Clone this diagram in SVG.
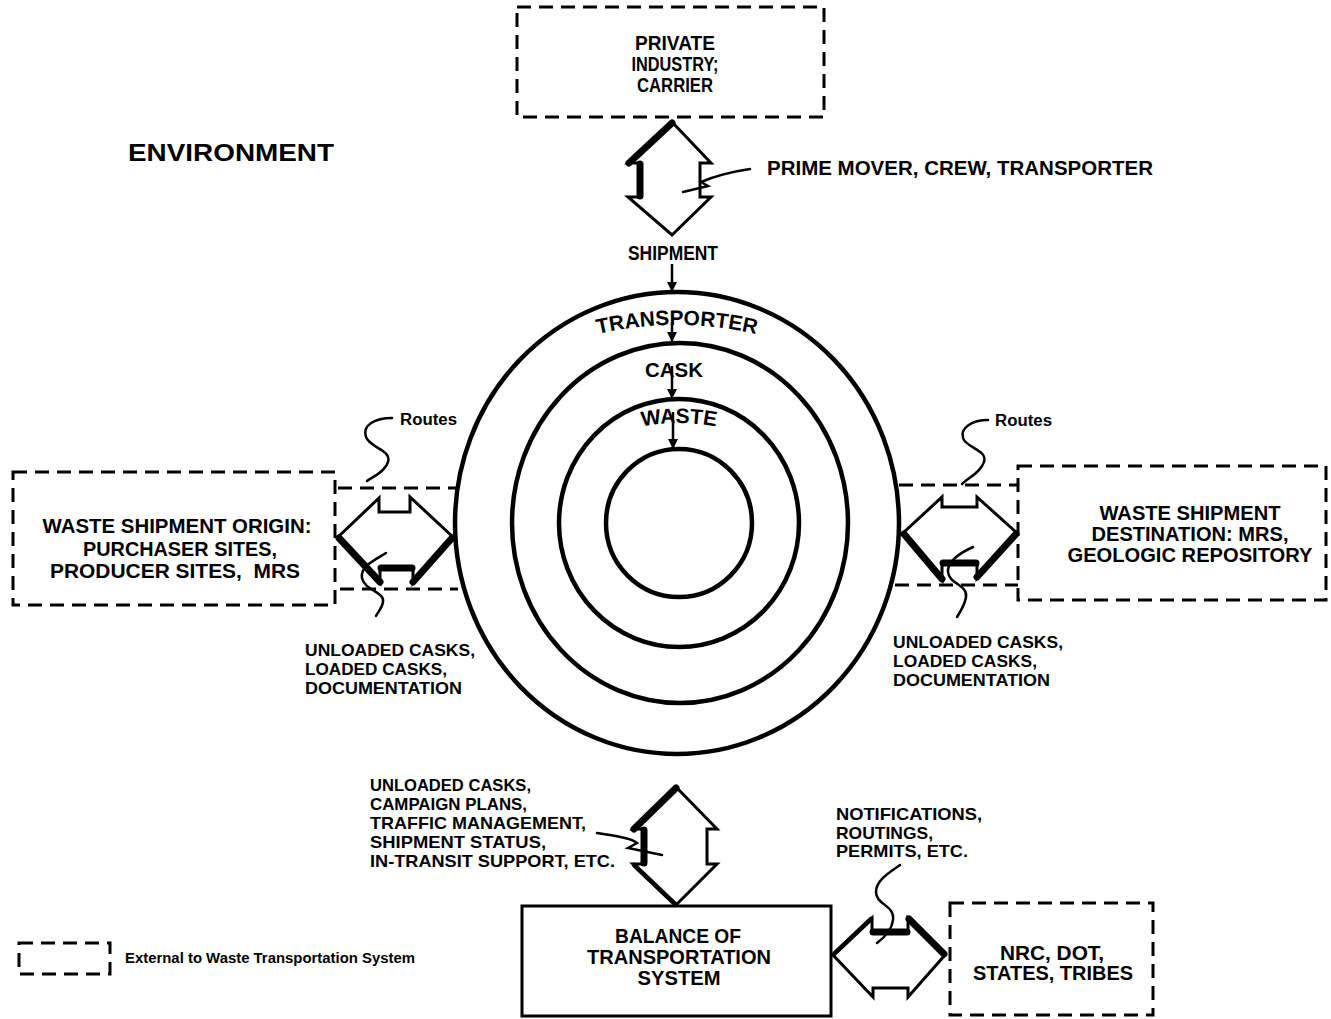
<svg xmlns="http://www.w3.org/2000/svg" width="1331" height="1019" viewBox="0 0 1331 1019">
<style>
.t{font-family:"Liberation Sans",Arial,sans-serif;font-weight:bold;fill:#000}
.m{text-anchor:middle}
.dash{fill:none;stroke:#000;stroke-width:3;stroke-dasharray:14 8}
.solid{fill:none;stroke:#000;stroke-width:3}
.ring{fill:none;stroke:#000;stroke-width:4.5}
.arr{fill:#fff;stroke:#000;stroke-width:3;stroke-linejoin:miter}
.thk{fill:none;stroke:#000;stroke-width:7;stroke-linecap:round}
.lead{fill:none;stroke:#000;stroke-width:2.5;stroke-linecap:round}
.ptr{fill:none;stroke:#000;stroke-width:2.5}
</style>
<defs>
<marker id="ah" viewBox="0 0 10 10" refX="10" refY="5" markerWidth="12" markerHeight="10" markerUnits="userSpaceOnUse" orient="auto">
<path d="M0,0 L10,5 L0,10 z" fill="#000"/>
</marker>
<path id="arcT" d="M327,675 A350,350 0 0 1 1027,675"/>
<path id="arcW" d="M479,623 A200,200 0 0 1 879,623"/>
</defs>
<rect width="1331" height="1019" fill="#fff"/>

<text class="t" x="128" y="161" font-size="24" textLength="206" lengthAdjust="spacingAndGlyphs">ENVIRONMENT</text>

<g id="private-industry">
<rect class="dash" x="517" y="7" width="307" height="110"/>
<text class="t m" x="675" y="50" font-size="20" textLength="80" lengthAdjust="spacingAndGlyphs">PRIVATE</text>
<text class="t m" x="675" y="71" font-size="20" textLength="87" lengthAdjust="spacingAndGlyphs">INDUSTRY;</text>
<text class="t m" x="675" y="92" font-size="20" textLength="76" lengthAdjust="spacingAndGlyphs">CARRIER</text>
</g>

<g id="rings">
<ellipse class="ring" cx="677" cy="523" rx="222" ry="231"/>
<ellipse class="ring" cx="680" cy="523" rx="168" ry="180"/>
<ellipse class="ring" cx="679" cy="523" rx="120" ry="124"/>
<ellipse class="ring" cx="679" cy="523" rx="73" ry="74"/>
<text class="t" font-size="21"><textPath href="#arcT" startOffset="50%" text-anchor="middle">TRANSPORTER</textPath></text>
<text class="t m" x="674" y="377" font-size="20" textLength="58" lengthAdjust="spacingAndGlyphs">CASK</text>
<text class="t" font-size="21"><textPath href="#arcW" startOffset="50%" text-anchor="middle">WASTE</textPath></text>
</g>

<g id="origin">
<rect class="dash" x="13" y="472" width="322" height="133"/>
<text class="t m" x="177" y="533" font-size="21" textLength="269" lengthAdjust="spacingAndGlyphs">WASTE SHIPMENT ORIGIN:</text>
<text class="t m" x="180" y="556" font-size="21" textLength="194" lengthAdjust="spacingAndGlyphs">PURCHASER SITES,</text>
<text class="t m" x="175" y="578" font-size="21" textLength="250" lengthAdjust="spacingAndGlyphs">PRODUCER SITES,&#160; MRS</text>
</g>

<g id="destination">
<rect class="dash" x="1018" y="466" width="308" height="134"/>
<text class="t m" x="1190" y="520" font-size="21" textLength="181" lengthAdjust="spacingAndGlyphs">WASTE SHIPMENT</text>
<text class="t m" x="1190" y="541" font-size="21" textLength="197" lengthAdjust="spacingAndGlyphs">DESTINATION: MRS,</text>
<text class="t m" x="1190" y="562" font-size="21" textLength="245" lengthAdjust="spacingAndGlyphs">GEOLOGIC REPOSITORY</text>
</g>

<g id="balance">
<rect class="solid" x="522" y="906" width="309" height="110"/>
<text class="t m" x="678" y="943" font-size="20" textLength="126" lengthAdjust="spacingAndGlyphs">BALANCE OF</text>
<text class="t m" x="679" y="964" font-size="20" textLength="184" lengthAdjust="spacingAndGlyphs">TRANSPORTATION</text>
<text class="t m" x="679" y="985" font-size="20" textLength="83" lengthAdjust="spacingAndGlyphs">SYSTEM</text>
</g>

<g id="nrc">
<rect class="dash" x="950" y="903" width="203" height="112"/>
<text class="t m" x="1052" y="960" font-size="20" textLength="104" lengthAdjust="spacingAndGlyphs">NRC, DOT,</text>
<text class="t m" x="1053" y="980" font-size="20" textLength="160" lengthAdjust="spacingAndGlyphs">STATES, TRIBES</text>
</g>

<g id="legend">
<rect class="dash" x="19" y="943" width="91" height="31"/>
<text class="t" x="125" y="963" font-size="14" textLength="290" lengthAdjust="spacingAndGlyphs">External to Waste Transportation System</text>
</g>

<g id="connectors">
<polygon class="arr" points="672,122 711,163 700,163 700,197 711,197 672,235 628,197 640,197 640,163 628,163"/>
<path class="thk" d="M629,163 L672,123 M640,164 V196"/>
<path class="lead" d="M683,192 L708,186 L701,182 C715,176 730,172 750,169"/>
<text class="t" x="767" y="175" font-size="20" textLength="386" lengthAdjust="spacingAndGlyphs">PRIME MOVER, CREW, TRANSPORTER</text>
<text class="t m" x="673" y="260" font-size="20" textLength="90" lengthAdjust="spacingAndGlyphs">SHIPMENT</text>
<path class="ptr" d="M672,264 V292" marker-end="url(#ah)"/>
<path class="ptr" d="M672,322 V342" marker-end="url(#ah)"/>
<path class="ptr" d="M672,366 V399" marker-end="url(#ah)"/>
<path class="ptr" d="M673,412 V449" marker-end="url(#ah)"/>

<path class="dash" d="M338,488 H458 M340,589 H458"/>
<polygon class="arr" points="338,537 379,498 379,512 410,512 410,497 453,537 413,583 413,568 380,568 380,583"/>
<path class="thk" d="M339,538 L380,582 M381,568 H412 M413,582 L452,538"/>
<path class="lead" d="M392,418 C375,418 362,425 366,437 C370,448 392,450 388,462 C385,472 372,477 367,481"/>
<path class="lead" d="M386,553 C375,560 360,566 362,578 C364,590 385,592 383,602 C382,608 378,612 376,616"/>
<text class="t" x="400" y="425" font-size="16" textLength="57" lengthAdjust="spacingAndGlyphs">Routes</text>
<text class="t" x="305" y="656" font-size="17" textLength="170" lengthAdjust="spacingAndGlyphs">UNLOADED CASKS,</text>
<text class="t" x="305" y="675" font-size="17" textLength="142" lengthAdjust="spacingAndGlyphs">LOADED CASKS,</text>
<text class="t" x="305" y="694" font-size="17" textLength="157" lengthAdjust="spacingAndGlyphs">DOCUMENTATION</text>

<path class="dash" d="M899,485 H1018 M895,585 H1018"/>
<polygon class="arr" points="903,533 942,497 942,507 977,507 977,497 1017,533 977,578 977,563 942,563 942,580"/>
<path class="thk" d="M904,534 L942,579 M943,563 H976 M977,577 L1016,534"/>
<path class="lead" d="M988,420 C972,420 960,428 963,438 C966,448 988,450 984,462 C981,472 968,478 962,484"/>
<path class="lead" d="M973,547 C962,552 947,560 948,572 C949,584 968,585 966,597 C965,605 960,612 957,617"/>
<text class="t" x="995" y="426" font-size="16" textLength="57" lengthAdjust="spacingAndGlyphs">Routes</text>
<text class="t" x="893" y="648" font-size="17" textLength="170" lengthAdjust="spacingAndGlyphs">UNLOADED CASKS,</text>
<text class="t" x="893" y="667" font-size="17" textLength="144" lengthAdjust="spacingAndGlyphs">LOADED CASKS,</text>
<text class="t" x="893" y="686" font-size="17" textLength="157" lengthAdjust="spacingAndGlyphs">DOCUMENTATION</text>

<polygon class="arr" points="676,787 717,829 707,829 707,864 717,864 676,905 633,864 644,864 644,829 633,829"/>
<path class="thk" d="M634,829 L676,788 M644,830 V863"/>
<path class="lead" d="M634,865 L675,904" style="stroke-width:4.5"/>
<path class="lead" d="M597,833 C615,836 632,838 637,843 L628,848 L662,855"/>
<text class="t" x="370" y="791" font-size="17" textLength="161" lengthAdjust="spacingAndGlyphs">UNLOADED CASKS,</text>
<text class="t" x="370" y="810" font-size="17" textLength="157" lengthAdjust="spacingAndGlyphs">CAMPAIGN PLANS,</text>
<text class="t" x="370" y="829" font-size="17" textLength="216" lengthAdjust="spacingAndGlyphs">TRAFFIC MANAGEMENT,</text>
<text class="t" x="370" y="848" font-size="17" textLength="176" lengthAdjust="spacingAndGlyphs">SHIPMENT STATUS,</text>
<text class="t" x="370" y="867" font-size="17" textLength="245" lengthAdjust="spacingAndGlyphs">IN-TRANSIT SUPPORT, ETC.</text>

<polygon class="arr" points="833,955 872,918 872,932 908,932 908,918 945,955 908,997 908,988 873,988 873,997"/>
<path class="thk" d="M873,932 H907 M909,919 L944,954"/>
<path class="lead" d="M834,954 L871,919" style="stroke-width:4.5"/>
<path class="lead" d="M900,865 C890,872 876,880 876,892 C876,905 895,905 893,920 C892,930 885,937 877,943"/>
<text class="t" x="836" y="820" font-size="17" textLength="146" lengthAdjust="spacingAndGlyphs">NOTIFICATIONS,</text>
<text class="t" x="836" y="839" font-size="17" textLength="97" lengthAdjust="spacingAndGlyphs">ROUTINGS,</text>
<text class="t" x="836" y="857" font-size="17" textLength="132" lengthAdjust="spacingAndGlyphs">PERMITS, ETC.</text>
</g>
</svg>
